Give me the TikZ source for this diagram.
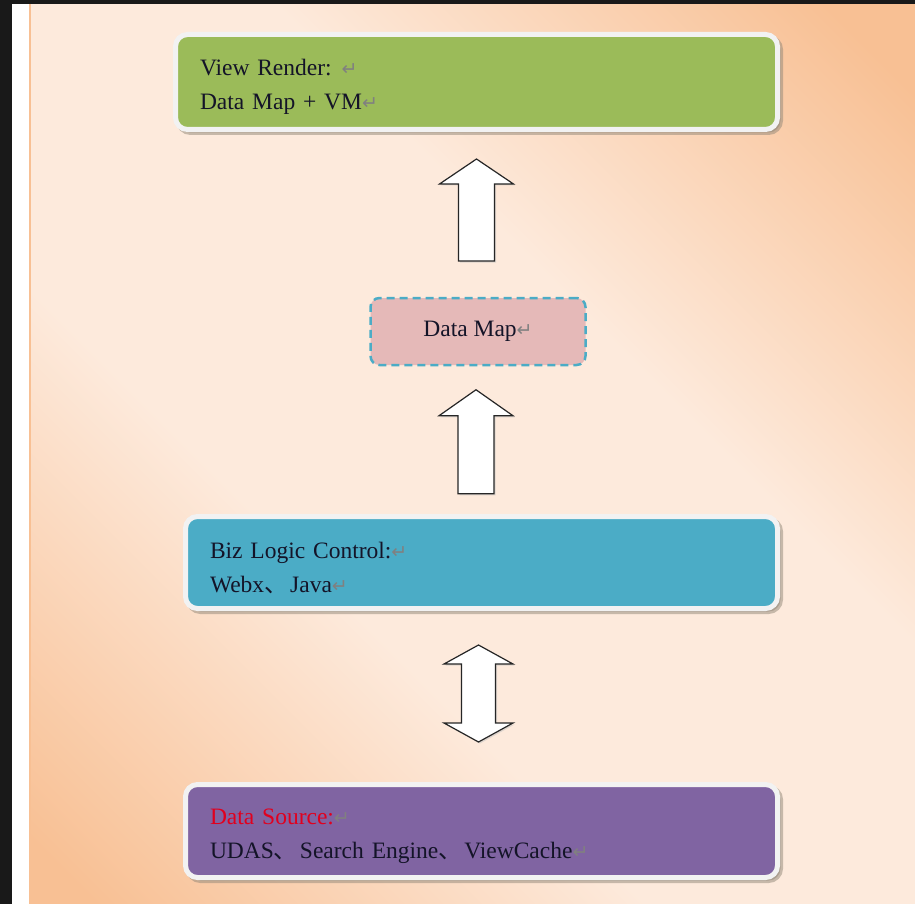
\documentclass[tikz,border=0pt]{standalone}
\usepackage{fontspec}
\setmainfont{Liberation Serif}
\newfontfamily\cjkfont{Noto Sans CJK SC}
\newfontfamily\symfont{DejaVu Sans}
\usetikzlibrary{shadows}
\definecolor{vrgreen}{RGB}{155,187,89}
\definecolor{bizblue}{RGB}{75,172,198}
\definecolor{dspurple}{RGB}{128,100,162}
\definecolor{dmpink}{RGB}{229,185,184}
\definecolor{bgorange}{RGB}{248,192,148}
\definecolor{bgpale}{RGB}{253,234,220}
\definecolor{rimwhite}{RGB}{242,242,242}
\definecolor{shadowgrey}{RGB}{145,135,120}
\definecolor{txtdark}{RGB}{20,20,40}
\definecolor{srcred}{RGB}{225,0,30}
\definecolor{markgrey}{RGB}{128,128,128}
\pgfdeclareverticalshading{pagebg}{100bp}{color(0bp)=(bgorange); color(17bp)=(bgorange);
  color(39bp)=(bgpale); color(60bp)=(bgpale); color(82bp)=(bgorange); color(100bp)=(bgorange)}
\newcommand{\retmark}{{\symfont\fontsize{19}{19}\selectfont\color{markgrey}↵}}
\newcommand{\dun}{{\cjkfont 、}\hspace{2.5pt}}
\tikzset{
  layerbox/.style={rectangle, rounded corners=12pt, draw=rimwhite, line width=5pt,
    inner xsep=24.5pt, inner ysep=0pt, align=left, text=txtdark,
    font=\fontsize{23.5}{34}\selectfont, execute at begin node={\rule{0pt}{27pt}},
    drop shadow={shadow xshift=3pt, shadow yshift=-3pt, draw=shadowgrey, line width=5pt, fill=shadowgrey}},
  mapbox/.style={rectangle, rounded corners=9pt, fill=dmpink, draw=bizblue, line width=2.5pt,
    dash pattern=on 8pt off 5pt, minimum width=215pt, minimum height=67pt, text=txtdark,
    font=\fontsize{23.5}{34}\selectfont},
  blockarrow/.style={draw=black!85, fill=white, line width=1.2pt,
    drop shadow={shadow xshift=1.5pt, shadow yshift=-1.5pt, fill=black!25}}
}
\begin{document}
\begin{tikzpicture}[x=1pt, y=-1pt]
\useasboundingbox (0,0) rectangle (915,904);
% page background
\shade[shading=pagebg, shading angle=-45] (31,4) rectangle (915,904);
\fill[black!90] (0,0) rectangle (915,4);
\fill[black!90] (0,0) rectangle (12,904);
\fill[white] (12,4) rectangle (29,904);
\draw[bgorange, line width=2pt] (30,4) -- (30,904);

% layers
\node[layerbox, fill=vrgreen, minimum width=602pt, minimum height=95pt, text width=553pt] (render) at (476.5,82)
  {View Render:\hspace{10pt}\retmark\\Data Map + VM\retmark};
\node[mapbox] (datamap) at (478,331.5) {Data Map\retmark};
\node[layerbox, fill=bizblue, minimum width=592pt, minimum height=92pt, text width=543pt] (biz) at (481.5,562.5)
  {Biz Logic Control:\retmark\\Webx\dun Java\retmark};
\node[layerbox, fill=dspurple, minimum width=592pt, minimum height=93pt, text width=543pt] (source) at (481.5,831)
  {{\color{srcred}Data Source:}\retmark\\UDAS\dun Search Engine\dun ViewCache\retmark};

% block arrows
\draw[blockarrow] ([yshift=-27pt]render.south) -- ++(37,25) -- ++(-19,0) -- ++(0,77) -- ++(-36,0)
  -- ++(0,-77) -- ++(-19,0) -- cycle;
\draw[blockarrow] ([xshift=-2pt,yshift=-23.5pt]datamap.south) -- ++(37,26) -- ++(-19,0) -- ++(0,78) -- ++(-36,0)
  -- ++(0,-78) -- ++(-19,0) -- cycle;
\draw[blockarrow] ([xshift=-3pt,yshift=-34pt]biz.south) -- ++(34.5,19) -- ++(-17.5,0) -- ++(0,59) -- ++(17.5,0)
  -- ++(-34.5,19) -- ++(-34.5,-19) -- ++(17.5,0) -- ++(0,-59) -- ++(-17.5,0) -- cycle;
\end{tikzpicture}
\end{document}
